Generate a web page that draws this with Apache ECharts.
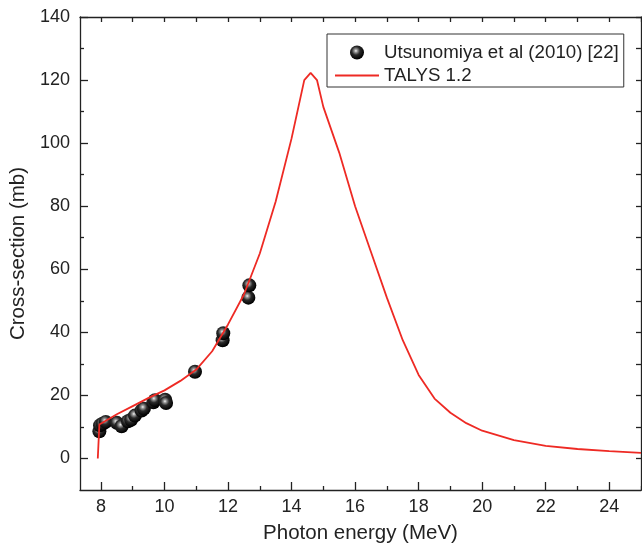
<!DOCTYPE html>
<html>
<head>
<meta charset="utf-8">
<script src="https://cdn.jsdelivr.net/npm/echarts@6/dist/echarts.min.js"></script>
<style>html,body{margin:0;padding:0;background:#fff;}#c{width:642px;height:550px;}</style>
</head>
<body>
<div id="c"></div>
<script>
// Experimental data: Utsunomiya et al (2010) [22]  [photon energy MeV, cross-section mb]
const expName = 'Utsunomiya et al (2010) [22]';
const expX = [7.95, 7.97, 8.05, 8.15, 8.5, 8.65, 8.85, 8.95, 9.07, 9.28, 9.35, 9.65, 9.7, 10.02, 10.05, 10.96, 11.83, 11.85, 12.64, 12.67];
const expY = [8.6, 10.5, 11.0, 11.6, 11.3, 10.2, 11.8, 12.3, 13.6, 15.2, 15.8, 17.8, 18.5, 18.6, 17.6, 27.5, 37.5, 39.7, 51.0, 54.9];

// TALYS 1.2 calculation
const talysName = 'TALYS 1.2';
const talysX = [7.9, 7.95, 8.0, 8.5, 9.0, 9.5, 10.0, 10.5, 11.0, 11.5, 12.0, 12.5, 13.0, 13.5, 14.0, 14.4, 14.6, 14.8, 15.0, 15.5, 16.0, 16.5, 17.0, 17.5, 18.0, 18.5, 19.0, 19.5, 20.0, 21.0, 22.0, 23.0, 24.0, 25.0];
const talysY = [0, 10.8, 11.3, 14.0, 16.6, 19.2, 21.6, 24.6, 28.2, 34.0, 42.5, 52.0, 65.0, 81.5, 101.5, 120.0, 122.3, 120.0, 111.5, 97.0, 80.0, 65.5, 51.0, 37.5, 26.5, 19.0, 14.5, 11.2, 8.8, 5.8, 4.0, 3.0, 2.3, 1.8];

// Axis ticks
const xMajor = [8, 10, 12, 14, 16, 18, 20, 22, 24];
const xMinor = [9, 11, 13, 15, 17, 19, 21, 23, 25];
const yMajor = [0, 20, 40, 60, 80, 100, 120, 140];
const yMinor = [10, 30, 50, 70, 90, 110, 130];
const xRange = [7.34, 25];
const yRange = [-10, 140];

const chart = echarts.init(document.getElementById('c'));
const FONT = '"Liberation Sans", Arial, sans-serif';
const AX = '#222';
const all = (a, b) => a.concat(b).sort((p, q) => p - q);

function xAx(opts) {
  return Object.assign({
    type: 'value', min: xRange[0], max: xRange[1], position: 'bottom',
    axisLine: { show: true, onZero: false, lineStyle: { color: AX, width: 1.3 } },
    splitLine: { show: false },
    axisLabel: { show: false },
    axisTick: { show: true, inside: true, length: 8, lineStyle: { color: AX, width: 1.3 } }
  }, opts);
}
function yAx(opts) {
  return Object.assign({
    type: 'value', min: yRange[0], max: yRange[1], position: 'left',
    axisLine: { show: true, onZero: false, lineStyle: { color: AX, width: 1.3 } },
    splitLine: { show: false },
    axisLabel: { show: false },
    axisTick: { show: true, inside: true, length: 8, lineStyle: { color: AX, width: 1.3 } }
  }, opts);
}

const ballColor = {
  type: 'radial', x: 0.42, y: 0.38, r: 0.6,
  colorStops: [
    { offset: 0, color: '#f4f4f4' },
    { offset: 0.18, color: '#9a9a9a' },
    { offset: 0.5, color: '#2a2a2a' },
    { offset: 1, color: '#000' }
  ]
};

const lineIcon = 'path://M0,0 L0.001,0 L0.001,14 L0,14 Z M0,6.1 L44,6.1 L44,7.9 L0,7.9 Z';

chart.setOption({
  animation: false,
  backgroundColor: '#fff',
  grid: { left: 80, right: 1, top: 17, bottom: 60, containLabel: false },
  legend: {
    orient: 'vertical', left: 327, top: 34,
    borderColor: '#333', borderWidth: 1, borderRadius: 0,
    padding: [9, 5, 2, 8], itemGap: 4, itemWidth: 44, itemHeight: 14,
    textStyle: { fontFamily: FONT, fontSize: 18.7, color: '#222' },
    data: [{ name: expName, icon: 'circle' }, { name: talysName, icon: lineIcon }]
  },
  xAxis: [
    xAx({
      name: 'Photon energy (MeV)', nameLocation: 'middle', nameGap: 33,
      nameTextStyle: { fontFamily: FONT, fontSize: 20.5, color: '#222' },
      axisLabel: { show: true, customValues: xMajor, margin: 8, fontFamily: FONT, fontSize: 18, color: '#222' },
      axisTick: { show: true, inside: true, length: 8, customValues: xMajor, lineStyle: { color: AX, width: 1.3 } }
    }),
    xAx({
      axisLine: { show: false, onZero: false },
      axisTick: { show: true, inside: true, length: 4, customValues: xMinor, lineStyle: { color: AX, width: 1.3 } }
    }),
    xAx({
      position: 'top',
      axisTick: { show: true, inside: true, length: 5, customValues: all(xMajor, xMinor), lineStyle: { color: AX, width: 1.3 } }
    })
  ],
  yAxis: [
    yAx({
      name: 'Cross-section (mb)', nameLocation: 'middle', nameGap: 49,
      nameTextStyle: { fontFamily: FONT, fontSize: 20.5, color: '#222' },
      axisLabel: { show: true, customValues: yMajor, margin: 10, fontFamily: FONT, fontSize: 18, color: '#222' },
      axisTick: { show: true, inside: true, length: 8, customValues: yMajor, lineStyle: { color: AX, width: 1.3 } }
    }),
    yAx({
      axisLine: { show: false, onZero: false },
      axisTick: { show: true, inside: true, length: 4, customValues: yMinor, lineStyle: { color: AX, width: 1.3 } }
    }),
    yAx({
      position: 'right',
      axisTick: { show: true, inside: true, length: 5, customValues: all(yMajor, yMinor), lineStyle: { color: AX, width: 1.3 } }
    })
  ],
  series: [
    {
      name: expName, type: 'scatter', xAxisIndex: 0, yAxisIndex: 0, z: 2,
      symbol: 'circle', symbolSize: 14,
      itemStyle: { color: ballColor, opacity: 1 },
      data: expX.map((x, i) => [x, expY[i]])
    },
    {
      name: talysName, type: 'line', xAxisIndex: 0, yAxisIndex: 0, z: 3,
      showSymbol: false, symbol: 'none', smooth: false,
      lineStyle: { color: '#ee2a24', width: 1.8 },
      itemStyle: { color: '#ee2a24' },
      data: talysX.map((x, i) => [x, talysY[i]])
    }
  ]
});
</script>
</body>
</html>
